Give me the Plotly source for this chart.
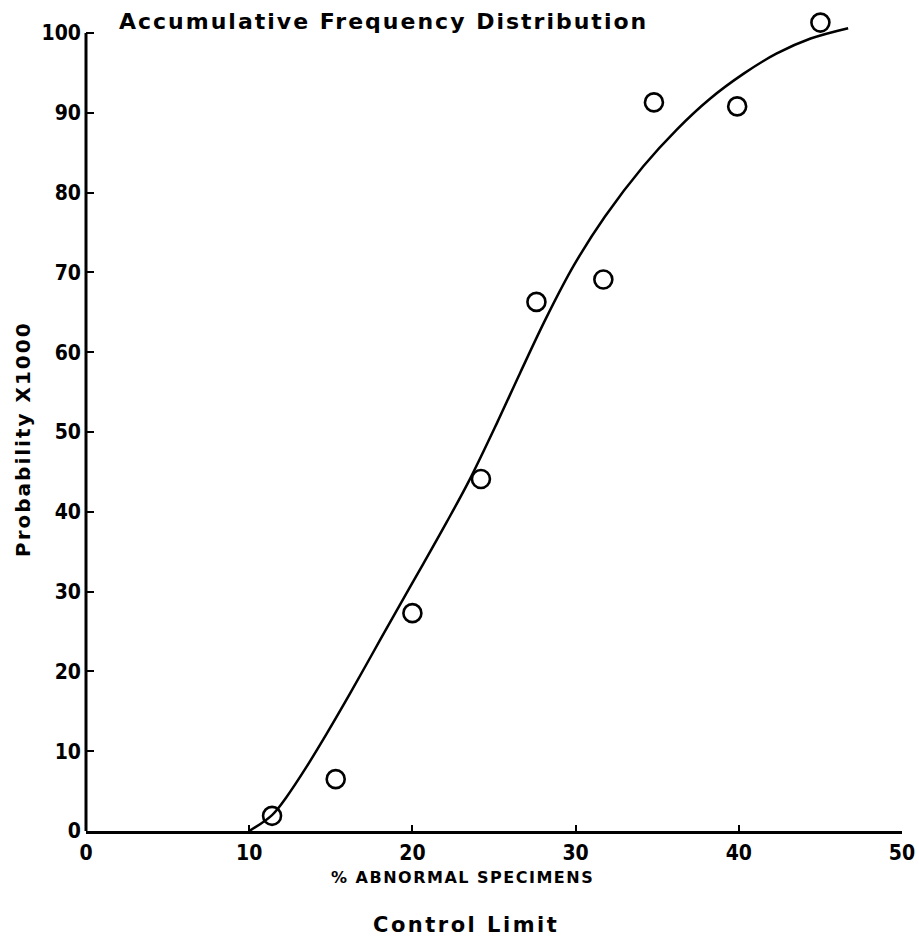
import plotly.graph_objects as go

# Observed points: % abnormal specimens vs probability (x1000)
obs_x = [11.4, 15.3, 20.0, 24.2, 27.6, 31.7, 34.8, 39.9, 45.0]
obs_y = [1.9, 6.5, 27.3, 44.1, 66.3, 69.1, 91.3, 90.8, 101.3]

# Fitted accumulative frequency curve
curve_x = [10.0, 11.4, 12.3, 13.5, 14.75, 16.2, 17.6, 19.0, 20.7, 22.1, 23.5,
           25.2, 26.6, 28.2, 29.9, 31.8, 34.15, 36.2, 38.2, 40.3, 42.3, 44.4, 46.7]
curve_y = [0.0, 2.0, 4.3, 8.0, 12.2, 17.3, 22.4, 27.5, 33.6, 38.7, 44.0,
           51.2, 57.4, 64.3, 70.9, 77.0, 83.3, 87.9, 91.7, 94.9, 97.4, 99.3, 100.6]

x_ticks = [0, 10, 20, 30, 40, 50]
y_ticks = [0, 10, 20, 30, 40, 50, 60, 70, 80, 90, 100]

TICK_FONT = dict(family="DejaVu Sans Condensed, Liberation Sans Narrow, DejaVu Sans",
                 size=21, color="black", weight="bold")
LABEL_FONT = "DejaVu Sans, Liberation Sans, sans-serif"


def spaced(text, px):
    return f'<span style="letter-spacing:{px}px">{text}</span>'


fig = go.Figure()

fig.add_trace(go.Scatter(
    x=curve_x, y=curve_y, mode="lines",
    line=dict(color="black", width=2.5, shape="spline", smoothing=1.0),
    cliponaxis=False, hoverinfo="skip", showlegend=False,
))

fig.add_trace(go.Scatter(
    x=obs_x, y=obs_y, mode="markers",
    marker=dict(symbol="circle-open", size=18, color="black",
                line=dict(color="black", width=2.6)),
    cliponaxis=False, showlegend=False,
))

fig.update_layout(
    width=919, height=942,
    margin=dict(l=86, r=17, t=17, b=111),
    paper_bgcolor="white", plot_bgcolor="white",
    xaxis=dict(
        range=[0, 50], tickvals=x_ticks, ticktext=[str(v) for v in x_ticks],
        showgrid=False, zeroline=False, automargin=False,
        showline=True, linecolor="black", linewidth=3,
        ticks="inside", ticklen=6, tickwidth=2, tickcolor="black",
        ticklabelstandoff=1, tickfont=TICK_FONT,
    ),
    yaxis=dict(
        range=[0, 102], tickvals=y_ticks, ticktext=[str(v) for v in y_ticks],
        showgrid=False, zeroline=False, showline=False, automargin=False,
        ticks="inside", ticklen=8, tickwidth=2, tickcolor="black",
        ticklabelstandoff=4, tickfont=TICK_FONT,
    ),
    shapes=[dict(type="line", xref="paper", yref="y", x0=0, x1=0, y0=0, y1=100,
                 line=dict(color="black", width=3))],
    annotations=[
        dict(text=spaced("Accumulative Frequency Distribution", 2), xref="paper", yref="paper",
             x=0.365, y=0.994, xanchor="center", yanchor="middle", showarrow=False,
             font=dict(family=LABEL_FONT, size=22, color="black", weight="bold")),
        dict(text=spaced("Probability X1000", 2), xref="paper", yref="paper",
             x=-0.0772, y=0.4816, xanchor="center", yanchor="middle", showarrow=False,
             textangle=-90,
             font=dict(family=LABEL_FONT, size=20, color="black", weight="bold")),
        dict(text=spaced("% ABNORMAL SPECIMENS", 1.5), xref="paper", yref="paper",
             x=0.462, y=-0.0577, xanchor="center", yanchor="middle", showarrow=False,
             font=dict(family=LABEL_FONT, size=16, color="black", weight="bold")),
        dict(text=spaced("Control Limit", 2.5), xref="paper", yref="paper",
             x=0.466, y=-0.1155, xanchor="center", yanchor="middle", showarrow=False,
             font=dict(family=LABEL_FONT, size=21, color="black", weight="bold")),
    ],
)

fig.write_html("out.html")
